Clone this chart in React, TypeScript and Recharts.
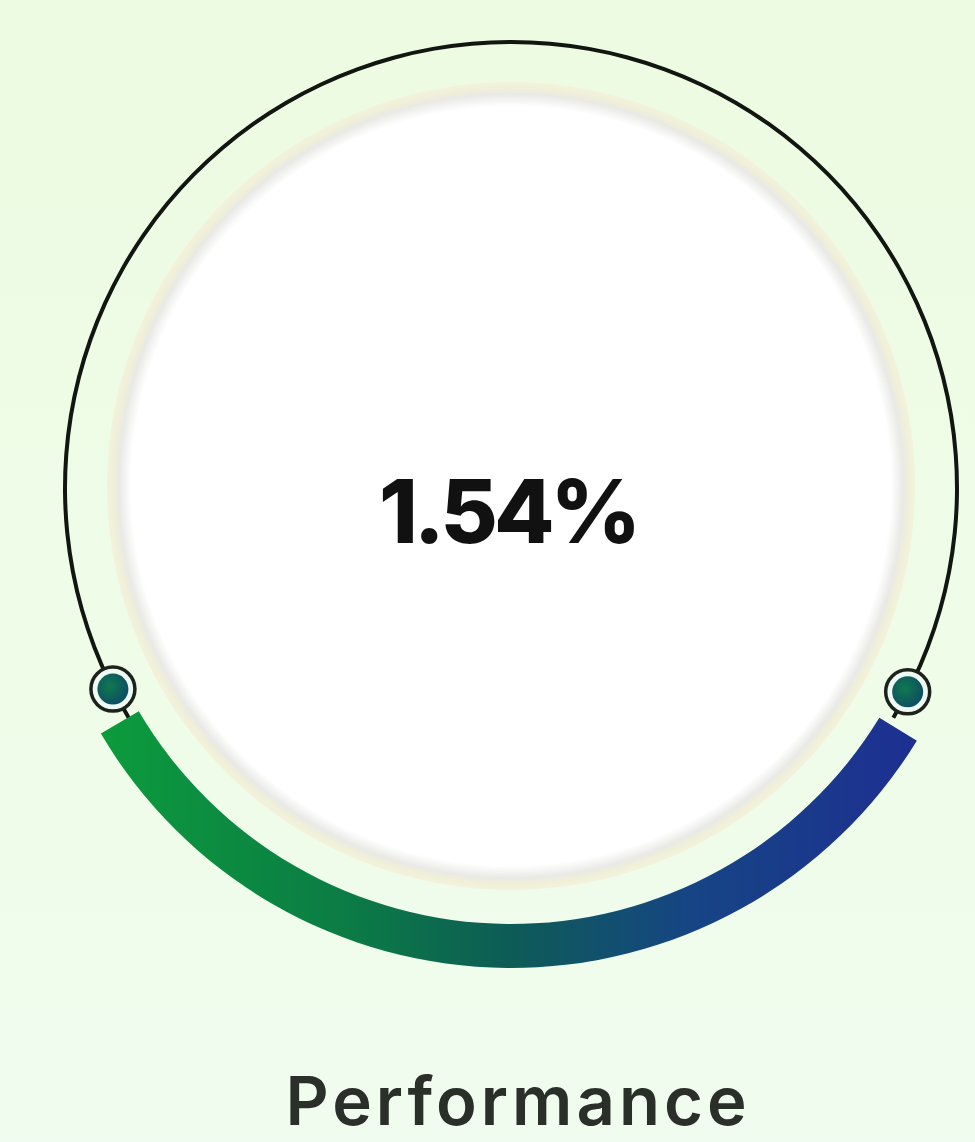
import React from "react";
import { Cell, Label, Pie, PieChart } from "recharts";

// values
const performance = [1.54];
const title = "Performance";
const disk = [{ name: "disk", value: 1 }];
const outline = [{ name: "outline", value: 1 }];
const range = [{ name: "range", value: 1 }];

const W = 975;
const H = 1142;
const CX = 511;
const CY = 488;
const RADIAN = Math.PI / 180;

const FONT = "Inter, 'Open Sans', sans-serif";

function EndDots(props: any) {
  const { cx, cy, innerRadius, outerRadius, startAngle, endAngle } = props;
  const r = (innerRadius + outerRadius) / 2;
  const angles = [startAngle + 3.8, endAngle - 4.2];
  return (
    <g>
      {angles.map((a, i) => {
        const x = cx + r * Math.cos(-a * RADIAN);
        const y = cy + r * Math.sin(-a * RADIAN);
        return (
          <g key={i}>
            <circle cx={x} cy={y} r={22} fill="#eefaf2" stroke="#1c221c" strokeWidth={3.5} />
            <circle cx={x} cy={y} r={15.5} fill="url(#dotGrad)" />
          </g>
        );
      })}
    </g>
  );
}

export default function App() {
  const valueText = `${performance[0].toFixed(2)}%`;
  return (
    <div
      style={{
        position: "absolute",
        left: 0,
        top: 0,
        width: W,
        height: H,
        background: "linear-gradient(180deg, #edfbe2 0%, #effce8 60%, #f0fcef 100%)",
        overflow: "hidden"
      }}
    >
      <PieChart width={W} height={H} margin={{ top: 0, right: 0, bottom: 0, left: 0 }}>
        <defs>
          <radialGradient id="diskGrad" cx="50%" cy="50%" r="50%">
            <stop offset="0%" stopColor="#ffffff" />
            <stop offset="94%" stopColor="#ffffff" />
            <stop offset="97%" stopColor="#e9e9e6" />
            <stop offset="98.5%" stopColor="#f0efd8" />
            <stop offset="100%" stopColor="#f3f3dd" />
          </radialGradient>
          <linearGradient id="arcGrad" x1="0" y1="0" x2="1" y2="0">
            <stop offset="0%" stopColor="#0c9b3c" />
            <stop offset="30%" stopColor="#0b7c45" />
            <stop offset="50%" stopColor="#0d5c55" />
            <stop offset="72%" stopColor="#164584" />
            <stop offset="100%" stopColor="#1d2f92" />
          </linearGradient>
          <radialGradient id="dotGrad" cx="40%" cy="40%" r="60%">
            <stop offset="0%" stopColor="#0f7a4e" />
            <stop offset="100%" stopColor="#0d4f63" />
          </radialGradient>
        </defs>

        <Pie
          data={disk}
          dataKey="value"
          cx={CX}
          cy={CY - 2}
          innerRadius={0}
          outerRadius={404}
          startAngle={90}
          endAngle={-270}
          stroke="none"
          isAnimationActive={false}
        >
          <Cell fill="url(#diskGrad)" stroke="none" />
          <Label
            content={(p: any) => {
              const vb = p.viewBox || {};
              return (
                <text
                  x={vb.cx - 3}
                  y={vb.cy + 57}
                  textAnchor="middle"
                  fontFamily={FONT}
                  fontSize={88}
                  fontWeight={800}
                  fill="#111111"
                  letterSpacing={-4}
                >
                  {valueText}
                </text>
              );
            }}
          />
        </Pie>

        <Pie
          data={outline}
          dataKey="value"
          cx={CX}
          cy={CY}
          innerRadius={444}
          outerRadius={448}
          startAngle={-31}
          endAngle={211}
          stroke="none"
          labelLine={false}
          label={EndDots}
          isAnimationActive={false}
        >
          <Cell fill="#111611" stroke="none" />
        </Pie>

        <Pie
          data={range}
          dataKey="value"
          cx={CX}
          cy={CY + 4}
          innerRadius={432}
          outerRadius={476}
          startAngle={-149.5}
          endAngle={-31.5}
          stroke="none"
          isAnimationActive={false}
        >
          <Cell fill="url(#arcGrad)" stroke="none" />
        </Pie>

        <text
          x={518}
          y={1125}
          textAnchor="middle"
          fontFamily={FONT}
          fontSize={67}
          fontWeight={600}
          fill="#2a2f2a"
          letterSpacing={4}
        >
          {title}
        </text>
      </PieChart>
    </div>
  );
}
